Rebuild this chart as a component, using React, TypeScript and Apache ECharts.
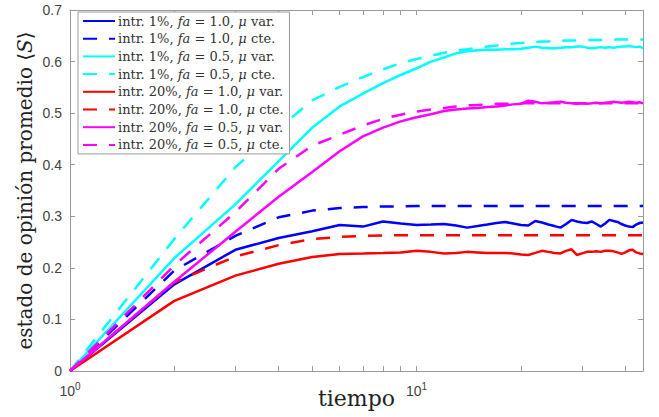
import React, { useEffect, useRef } from 'react';
import * as echarts from 'echarts';

const tiempo = [1, 2, 3, 4, 5, 6, 7, 8, 9, 10, 11, 12, 13, 14, 15, 16, 17, 18, 19, 20, 21, 22, 23, 24, 25, 26, 27, 28, 29, 30, 31, 32, 33, 34, 35, 36, 37, 38, 39, 40, 41, 42, 43, 44, 45];
const xTickValues = [1, 2, 3, 4, 5, 6, 7, 8, 9, 10, 20, 30, 40];
const xLabelValues = [1, 10];

const nombres = [
  'intr. 1%, fa = 1.0, μ var.',
  'intr. 1%, fa = 1.0, μ cte.',
  'intr. 1%, fa = 0.5, μ var.',
  'intr. 1%, fa = 0.5, μ cte.',
  'intr. 20%, fa = 1.0, μ var.',
  'intr. 20%, fa = 1.0, μ cte.',
  'intr. 20%, fa = 0.5, μ var.',
  'intr. 20%, fa = 0.5, μ cte.',
];

const i1fa10var = [0, 0.168, 0.235, 0.258, 0.271, 0.283, 0.280, 0.290, 0.286, 0.283, 0.284, 0.285, 0.282, 0.278, 0.281, 0.284, 0.287, 0.289, 0.286, 0.283, 0.282, 0.291, 0.288, 0.284, 0.281, 0.278, 0.285, 0.293, 0.290, 0.288, 0.287, 0.290, 0.285, 0.280, 0.286, 0.293, 0.291, 0.289, 0.285, 0.282, 0.280, 0.279, 0.284, 0.287, 0.288];
const i1fa10cte = [0, 0.195, 0.262, 0.298, 0.311, 0.316, 0.318, 0.319, 0.319, 0.320, 0.320, 0.320, 0.320, 0.320, 0.320, 0.320, 0.320, 0.320, 0.320, 0.320, 0.320, 0.320, 0.320, 0.320, 0.320, 0.320, 0.320, 0.320, 0.320, 0.320, 0.320, 0.320, 0.320, 0.320, 0.320, 0.320, 0.320, 0.320, 0.320, 0.320, 0.320, 0.320, 0.320, 0.320, 0.320];
const i1fa05var = [0, 0.219, 0.323, 0.407, 0.472, 0.513, 0.538, 0.558, 0.574, 0.587, 0.600, 0.608, 0.616, 0.620, 0.622, 0.623, 0.623, 0.624, 0.624, 0.625, 0.627, 0.629, 0.627, 0.626, 0.626, 0.627, 0.628, 0.628, 0.629, 0.629, 0.627, 0.626, 0.627, 0.628, 0.627, 0.628, 0.627, 0.628, 0.629, 0.629, 0.630, 0.629, 0.628, 0.629, 0.626];
const i1fa05cte = [0, 0.256, 0.395, 0.470, 0.525, 0.551, 0.570, 0.585, 0.597, 0.605, 0.611, 0.617, 0.621, 0.624, 0.627, 0.629, 0.631, 0.633, 0.635, 0.636, 0.637, 0.638, 0.639, 0.639, 0.640, 0.640, 0.641, 0.641, 0.641, 0.642, 0.642, 0.642, 0.642, 0.642, 0.643, 0.643, 0.643, 0.643, 0.643, 0.643, 0.643, 0.643, 0.643, 0.643, 0.643];
const i20fa10var = [0, 0.136, 0.185, 0.208, 0.221, 0.227, 0.228, 0.229, 0.230, 0.233, 0.231, 0.228, 0.229, 0.231, 0.230, 0.229, 0.229, 0.229, 0.228, 0.226, 0.225, 0.229, 0.233, 0.231, 0.229, 0.228, 0.233, 0.236, 0.225, 0.228, 0.231, 0.231, 0.232, 0.231, 0.233, 0.233, 0.232, 0.230, 0.227, 0.230, 0.234, 0.235, 0.230, 0.228, 0.227];
const i20fa10cte = [0, 0.172, 0.222, 0.244, 0.256, 0.260, 0.262, 0.263, 0.263, 0.263, 0.263, 0.263, 0.263, 0.263, 0.263, 0.263, 0.263, 0.263, 0.263, 0.263, 0.263, 0.263, 0.263, 0.263, 0.263, 0.263, 0.263, 0.263, 0.263, 0.263, 0.263, 0.263, 0.263, 0.263, 0.263, 0.263, 0.263, 0.263, 0.263, 0.263, 0.263, 0.263, 0.263, 0.263, 0.263];
const i20fa05var = [0, 0.173, 0.270, 0.338, 0.386, 0.426, 0.455, 0.472, 0.484, 0.492, 0.498, 0.504, 0.507, 0.509, 0.510, 0.512, 0.513, 0.515, 0.517, 0.518, 0.524, 0.522, 0.519, 0.520, 0.521, 0.522, 0.520, 0.519, 0.518, 0.519, 0.518, 0.519, 0.520, 0.519, 0.520, 0.521, 0.522, 0.521, 0.520, 0.521, 0.522, 0.521, 0.520, 0.521, 0.519];
const i20fa05cte = [0, 0.205, 0.308, 0.392, 0.437, 0.458, 0.476, 0.489, 0.497, 0.503, 0.507, 0.510, 0.513, 0.515, 0.516, 0.517, 0.518, 0.518, 0.519, 0.519, 0.519, 0.519, 0.519, 0.519, 0.519, 0.519, 0.519, 0.519, 0.519, 0.519, 0.519, 0.519, 0.519, 0.519, 0.519, 0.519, 0.519, 0.519, 0.519, 0.519, 0.519, 0.519, 0.519, 0.519, 0.519];

const valores = [i1fa10var, i1fa10cte, i1fa05var, i1fa05cte, i20fa10var, i20fa10cte, i20fa05var, i20fa05cte];
const colores = ['#0000ff', '#0000ff', '#00ffff', '#00ffff', '#ff0000', '#ff0000', '#ff00ff', '#ff00ff'];
const estilos = ['solid', 'dashed', 'solid', 'dashed', 'solid', 'dashed', 'solid', 'dashed'];

const SERIF = "'DejaVu Serif', 'Liberation Serif', serif";
const SANS = "'Liberation Sans', Arial, sans-serif";
const FRAME = '#9a9a9a';

export default function App() {
  const ref = useRef<HTMLDivElement>(null);
  useEffect(() => {
    const chart = echarts.init(ref.current!, null, { renderer: 'svg' });
    const tickCommon = { show: true, inside: true, length: 5, lineStyle: { color: FRAME, width: 1 } };
    const option: any = {
      animation: false,
      backgroundColor: '#ffffff',
      grid: { left: 70, right: 16, top: 10, bottom: 46, containLabel: false, outerBoundsMode: 'none' },
      legend: {
        orient: 'vertical',
        left: 78,
        top: 12,
        itemWidth: 32,
        itemHeight: 14,
        itemGap: 3.7,
        padding: [2, 6, 2, 4],
        backgroundColor: '#ffffff',
        borderColor: FRAME,
        borderWidth: 1,
        selectedMode: false,
        data: nombres,
        itemStyle: { opacity: 0, borderWidth: 0 },
        formatter: (n: string) => n.replace('fa', '{i|fa}').replace('μ', '{i|μ}'),
        textStyle: {
          fontFamily: SERIF,
          fontSize: 13,
          color: '#333',
          lineHeight: 14,
          padding: [0, 0, 0, -2],
          rich: { i: { fontFamily: SERIF, fontStyle: 'italic', fontSize: 13, color: '#333' } },
        },
      },
      xAxis: [
        {
          type: 'log',
          logBase: 10,
          min: 1,
          max: 45,
          position: 'bottom',
          name: 'tiempo',
          nameLocation: 'middle',
          nameGap: 16,
          nameMoveOverlap: false,
          nameTextStyle: { fontFamily: SERIF, fontSize: 22, color: '#222', verticalAlign: 'top' },
          axisLine: { show: true, onZero: false, lineStyle: { color: FRAME, width: 1 } },
          axisTick: { ...tickCommon, customValues: xTickValues },
          minorTick: { show: false },
          splitLine: { show: false },
          axisLabel: {
            customValues: xLabelValues,
            margin: 10,
            color: '#444',
            fontFamily: SANS,
            formatter: (v: number) => (Math.abs(v - 1) < 1e-6 ? '{b|10}{s|0}' : '{b|10}{s|1}'),
            rich: {
              b: { fontFamily: SANS, fontSize: 14, color: '#444' },
              s: { fontFamily: SANS, fontSize: 10, color: '#444', padding: [0, 0, 9, 0] },
            },
          },
        },
        {
          type: 'log',
          logBase: 10,
          min: 1,
          max: 45,
          position: 'top',
          axisLine: { show: true, onZero: false, lineStyle: { color: FRAME, width: 1 } },
          axisTick: { ...tickCommon, customValues: xTickValues },
          axisLabel: { show: false },
          splitLine: { show: false },
        },
      ],
      yAxis: [
        {
          type: 'value',
          min: 0,
          max: 0.7,
          interval: 0.1,
          position: 'left',
          name: 'estado de opinión promedio ⟨{i|S}⟩',
          nameLocation: 'middle',
          nameGap: 35,
          nameMoveOverlap: false,
          nameTextStyle: {
            fontFamily: SERIF,
            fontSize: 20,
            color: '#222',
            rich: { i: { fontFamily: SERIF, fontStyle: 'italic', fontSize: 20, color: '#222' } },
          },
          axisLine: { show: true, onZero: false, lineStyle: { color: FRAME, width: 1 } },
          axisTick: tickCommon,
          splitLine: { show: false },
          axisLabel: {
            margin: 8,
            color: '#444',
            fontFamily: SANS,
            fontSize: 14,
            formatter: (v: number) => (v === 0 ? '0' : v.toFixed(1)),
          },
        },
        {
          type: 'value',
          min: 0,
          max: 0.7,
          interval: 0.1,
          position: 'right',
          axisLine: { show: true, onZero: false, lineStyle: { color: FRAME, width: 1 } },
          axisTick: tickCommon,
          axisLabel: { show: false },
          splitLine: { show: false },
        },
      ],
      series: nombres.map((n, k) => ({
        name: n,
        type: 'line',
        xAxisIndex: 0,
        yAxisIndex: 0,
        symbol: 'none',
        showSymbol: false,
        clip: true,
        data: tiempo.map((t, j) => [t, valores[k][j]]),
        itemStyle: { color: colores[k] },
        lineStyle: {
          color: colores[k],
          width: 2.5,
          type: estilos[k] === 'dashed' ? [14, 12] : 'solid',
        },
      })),
    };
    chart.setOption(option);
    return () => chart.dispose();
  }, []);
  return (
    <div
      ref={ref}
      style={{ position: 'fixed', left: 0, top: 0, width: 659, height: 417, background: '#fff' }}
    />
  );
}
